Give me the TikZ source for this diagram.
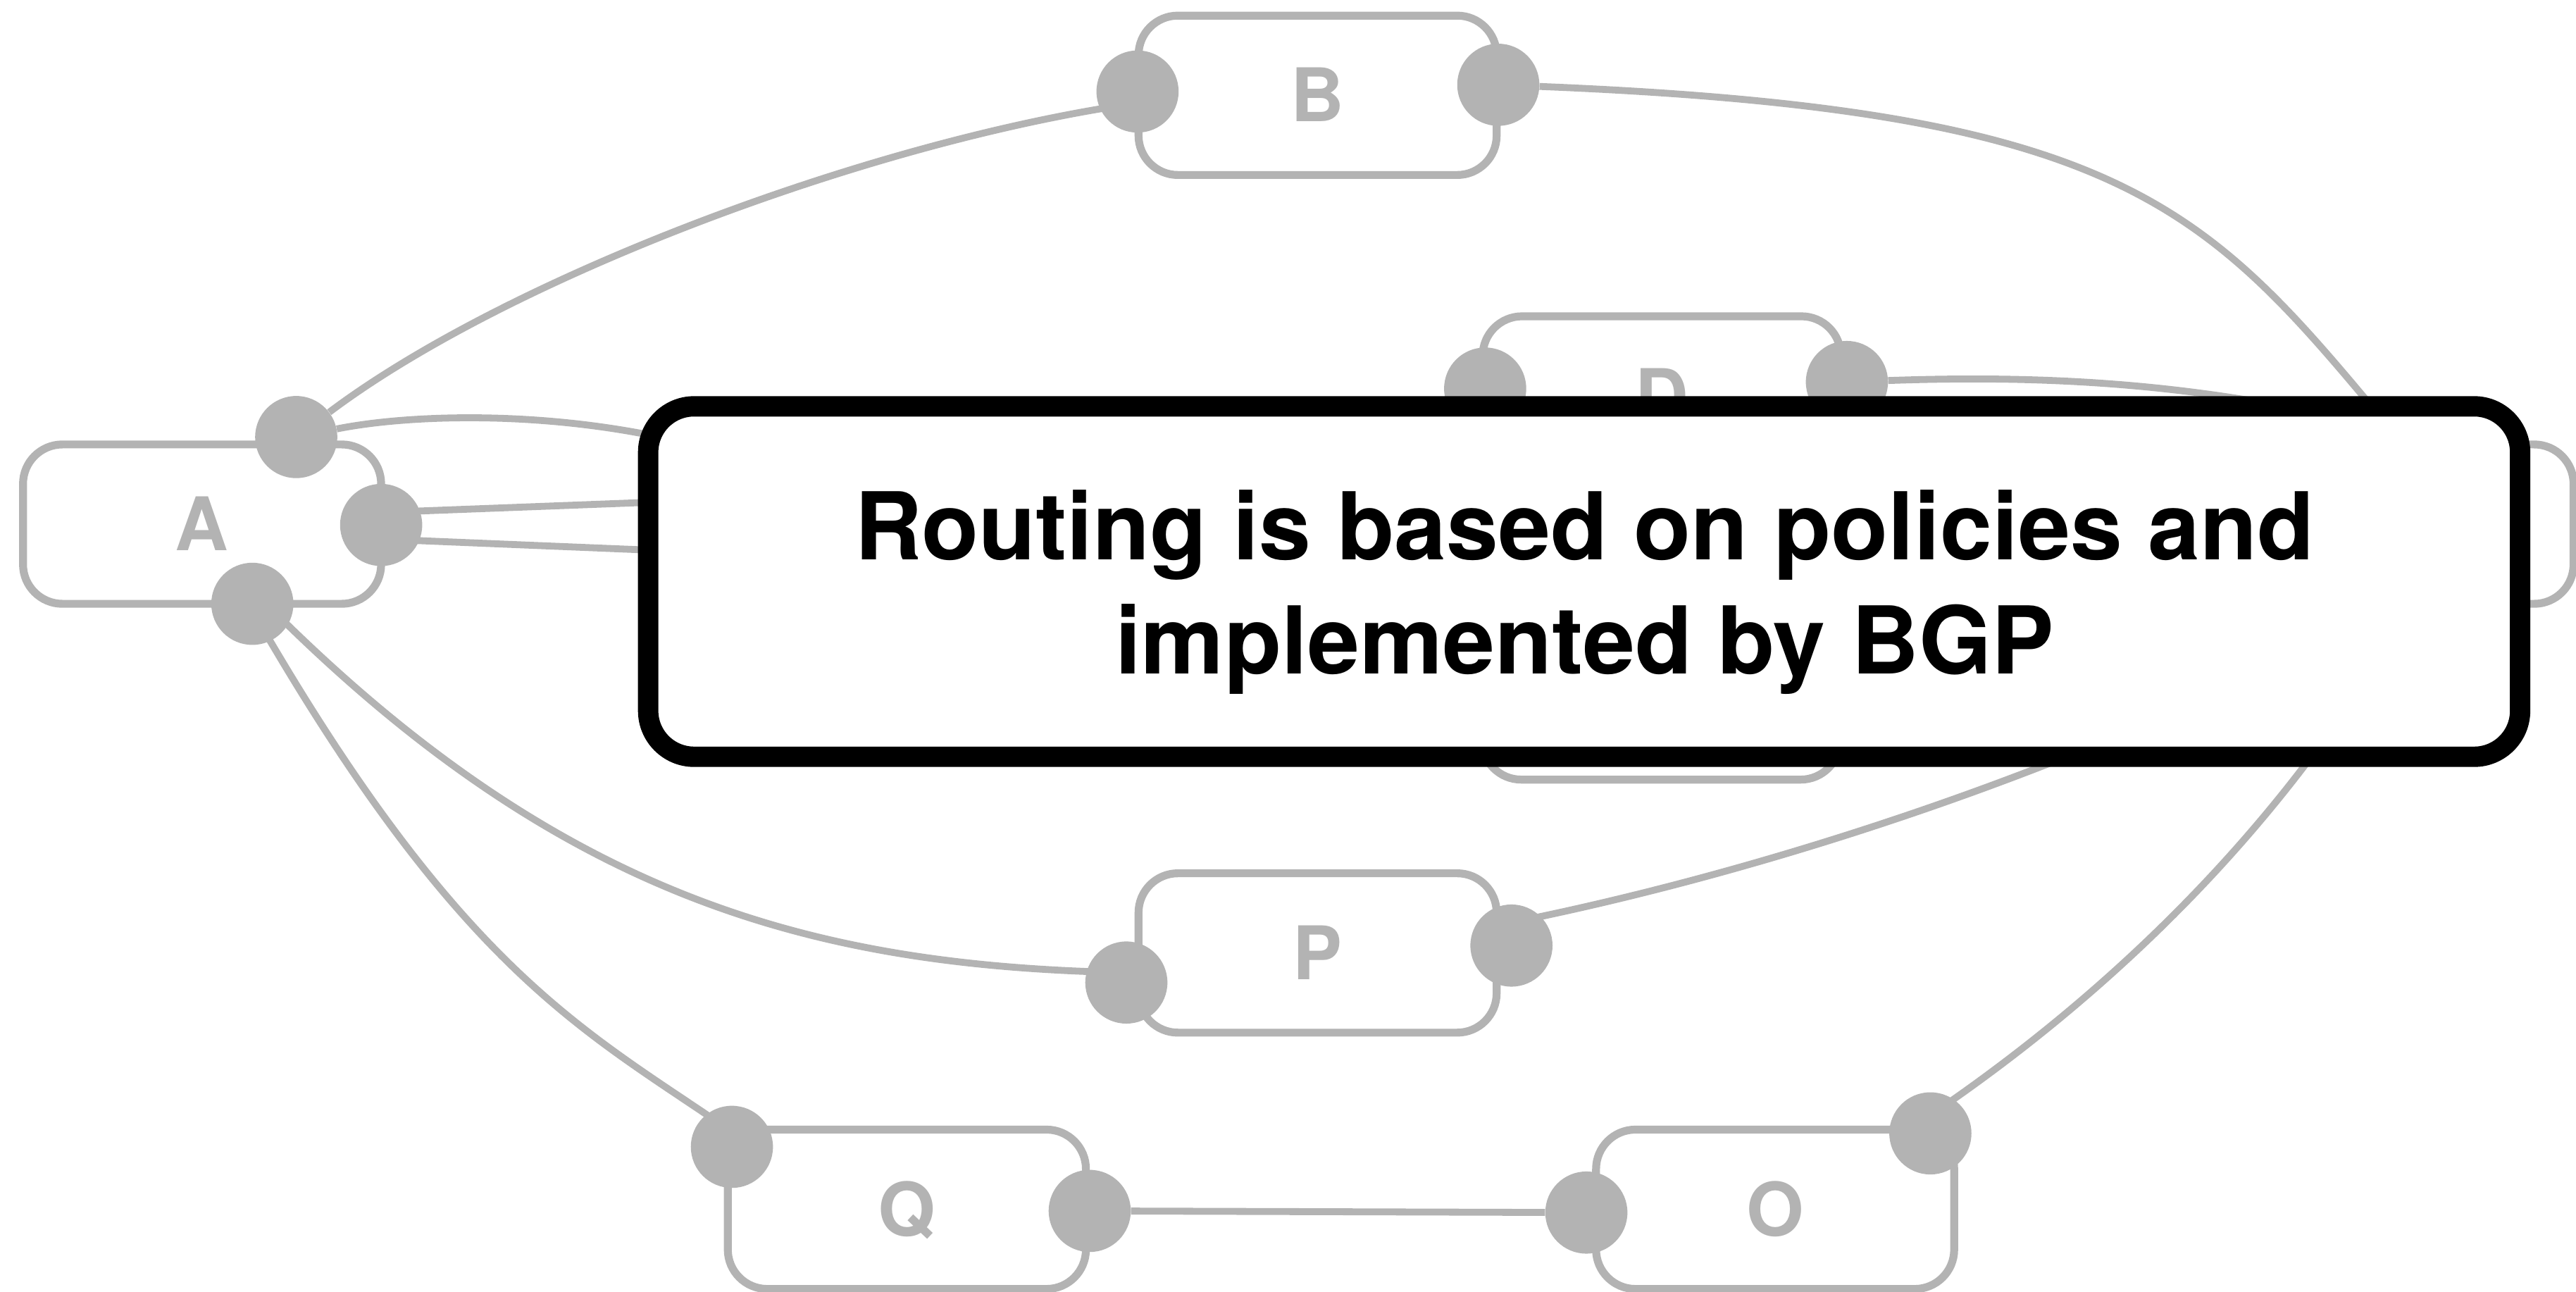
\documentclass[tikz,border=0pt]{standalone}
\usepackage{fontspec}
\setmainfont{TeX Gyre Heros}
\usetikzlibrary{calc}
\definecolor{netgray}{RGB}{179,179,179}
\pgfdeclarelayer{back}
\pgfsetlayers{back,main}
\begin{document}
\begin{tikzpicture}[x=0.05cm,y=-0.05cm,
  box/.style={draw=netgray,line width=0.24cm,fill=white,rounded corners=1.2cm,
    minimum width=10.9cm,minimum height=4.85cm,inner sep=0pt,text=netgray,
    font=\fontsize{64}{64}\selectfont\bfseries,text height=46pt,text depth=0pt},
  port/.style={circle,fill=netgray,minimum size=2.5cm,inner sep=0pt},
  link/.style={draw=netgray,line width=0.21cm},
  banner/.style={draw=black,fill=white,line width=0.62cm,rounded corners=1.4cm,
    minimum width=56.975cm,minimum height=10.665cm,inner sep=0pt},
  msgtext/.style={font=\fontsize{81}{99}\selectfont\bfseries,anchor=base,inner sep=0pt}]
\useasboundingbox (0,0) rectangle (1568,786);

% boxes
\begin{pgfonlayer}{back}
\node[box] (A) at (123,319) {A};
\node[box] (B) at (802,58) {B};
\node[box] (D) at (1011.5,241) {D};
\node[box] (C) at (1011,426) {};
\node[box] (E) at (1457.5,319) {};
\node[box] (P) at (802,580) {P};
\node[box] (Q) at (552,736) {Q};
\node[box] (O) at (1080.5,736) {O};
\end{pgfonlayer}

% ports
\node[port] (A1) at (180.3,266) {};
\node[port] (A2) at (232,319.5) {};
\node[port] (A3) at (153.6,367.5) {};
\node[port] (B1) at (692.4,55.7) {};
\node[port] (B2) at (912,51.6) {};
\node[port] (D1) at (904,236.5) {};
\node[port] (D2) at (1124.2,232.5) {};
\node[port] (P1) at (685.6,598) {};
\node[port] (P2) at (920,575.5) {};
\node[port] (Q1) at (445.5,698) {};
\node[port] (Q2) at (663.3,737) {};
\node[port] (O1) at (965.6,738) {};
\node[port] (O2) at (1175,689.8) {};

% hidden ends (under the banner)
\coordinate (h2) at (480,290);
\coordinate (h3) at (480,302.5);
\coordinate (h4) at (480,338.3);
\coordinate (h6) at (1452,257.4);
\coordinate (h7) at (1440,258);
\coordinate (h8) at (1330,430);
\coordinate (h9) at (1445,405);

% connectors
\begin{pgfonlayer}{back}
\draw[link] (A1) .. controls (310,168.5) and (532,85.4) .. ($(B1)+(0,7)$);
\draw[link] (A1) .. controls (260,250) and (380,248) .. (h2);
\draw[link] ($(A2)+(0,-7.6)$) -- (h3);
\draw[link] ($(A2)+(0,8.6)$) -- (h4);
\draw[link] ($(A3)+(11,2.5)$) .. controls (345,550) and (500,588) .. ($(P1)+(0,-6)$);
\draw[link] ($(A3)+(0,4)$) .. controls (283.6,597.7) and (360,629) .. ($(Q1)+(4.5,-6)$);
\draw[link] (B2) .. controls (1292,66.9) and (1342,125.4) .. (h6);
\draw[link] (D2) .. controls (1250,228) and (1340,234) .. (h7);
\draw[link] ($(P2)+(0,-14)$) .. controls (1050,535.5) and (1200,488.5) .. (h8);
\draw[link] ($(O2)+(0,-11)$) .. controls (1335,570.2) and (1415,453) .. (h9);
\draw[link] (Q2) -- (O1);
\end{pgfonlayer}

% banner
\node[banner] (msg) at (964.25,353.95) {};
\node[msgtext] (line1) at (964.5,340.6) {Routing is based on policies and};
\node[msgtext] (line2) at (964.5,410.3) {implemented by BGP};
\end{tikzpicture}
\end{document}
